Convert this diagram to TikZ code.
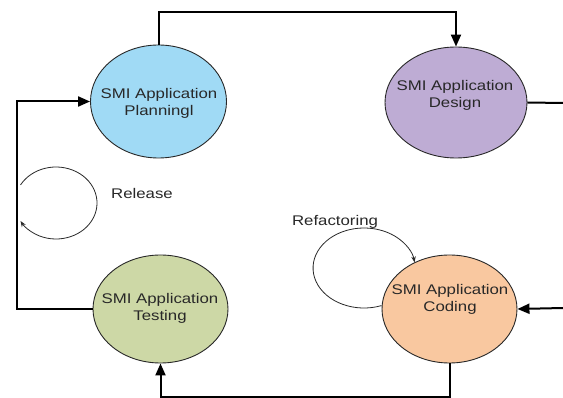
\documentclass[tikz,border=0pt]{standalone}
\usepackage{fontspec}
\setmainfont{Liberation Sans}[FakeStretch=1.2]
\usetikzlibrary{shapes.geometric,arrows.meta}
\definecolor{planc}{RGB}{160,218,245}
\definecolor{desc}{RGB}{190,172,212}
\definecolor{testc}{RGB}{205,216,166}
\definecolor{codec}{RGB}{249,200,160}
\definecolor{txt}{RGB}{40,40,40}
\definecolor{edge}{RGB}{40,40,40}
\tikzset{
  state/.style={ellipse, draw=edge, line width=0.9pt, inner sep=0pt},
  lbl/.style={text=txt, align=center, font=\fontsize{14}{17}\selectfont, inner sep=0pt},
  conn/.style={line width=2pt, black},
  arr/.style={conn, -{Triangle[length=12pt,width=10pt]}},
  loopline/.style={line width=0.8pt, edge, -{Stealth[length=6pt,width=4.5pt]}}
}
\begin{document}
\begin{tikzpicture}[x=1pt,y=1pt]
\useasboundingbox[fill=white] (0,0) rectangle (563,-398);
% release loop
\coordinate (relstart) at (20.5,-185);
\draw[loopline] (relstart) arc[start angle=150, end angle=-150, x radius=41, y radius=36];
\node[lbl] (rel) at (142,-193) {Release};
% states
\node[state, fill=planc, minimum width=136pt, minimum height=113pt] (plan) at (158.5,-101.5) {};
\node[state, fill=desc, minimum width=142pt, minimum height=111pt] (design) at (456,-102.5) {};
\node[state, fill=testc, minimum width=135pt, minimum height=108pt] (testing) at (160.5,-309) {};
\node[state, fill=codec, minimum width=135pt, minimum height=108pt] (coding) at (449.5,-309) {};
\node[lbl] (plant) at (159,-103) {SMI Application\\Planningl};
\node[lbl] (dest) at (455,-95) {SMI Application\\Design};
\node[lbl] (testt) at (160,-308) {SMI Application\\Testing};
\node[lbl] (codet) at (450,-299) {SMI Application\\Coding};
% refactoring loop
\coordinate (refstart) at (381.5,-305.6);
\draw[loopline] (refstart) arc[start angle=-70, end angle=-352, x radius=51, y radius=40];
\node[lbl] (ref) at (335,-222) {Refactoring};
% connectors
\coordinate (dout) at (563,-103);
\coordinate (cin) at (563,-308);
\draw[arr] (plan.north) -- ++(0,33) -| (design.north);
\draw[conn] (design.east) -- (dout);
\draw[arr] (cin) -- (coding.east);
\draw[arr] (coding.south) -- ++(0,-34) -| (testing.south);
\draw[arr] (testing.west) -- ++(-76,0) |- (plan.west);
\end{tikzpicture}
\end{document}
